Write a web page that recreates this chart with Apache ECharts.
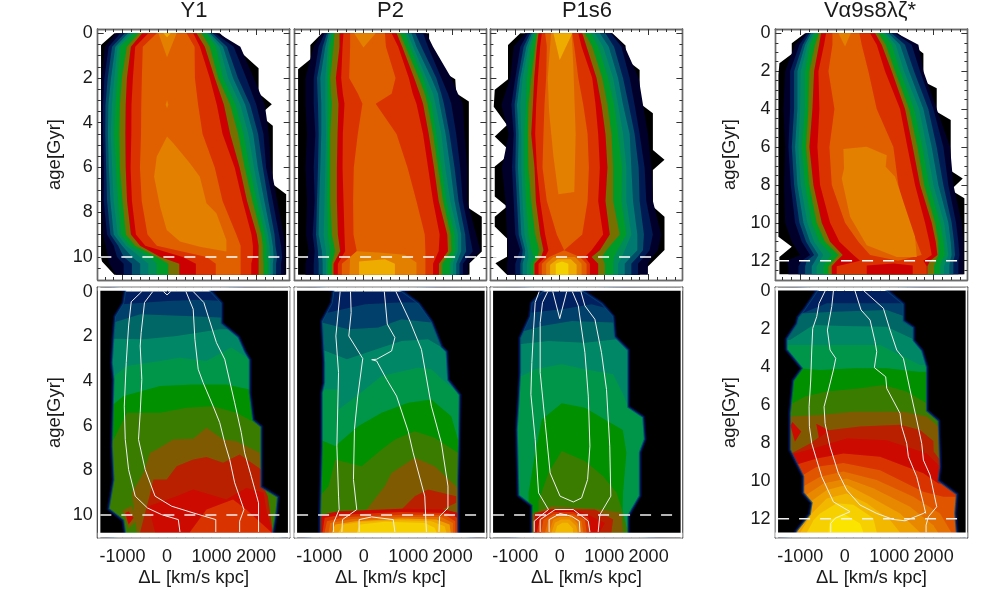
<!DOCTYPE html>
<html><head><meta charset="utf-8">
<style>html,body{margin:0;padding:0;background:#fff}#c{width:981px;height:598px}</style>
<script src="https://cdn.jsdelivr.net/npm/echarts@6/dist/echarts.min.js"></script>
</head><body><div id="c"></div>
<script>
const titles=['Y1','P2','P1s6','V\u03b19s8\u03bb\u03b6*'];
const xTicks=[-1000,0,1000,2000];
const xMinor=[-1400,-1200,-800,-600,-400,-200,200,400,600,800,1200,1400,1600,1800,2200,2400,2600];
const yTicks10=[0,2,4,6,8,10];
const yTicks12=[0,2,4,6,8,10,12];
const yMinor10=[0.5,1,1.5,2.5,3,3.5,4.5,5,5.5,6.5,7,7.5,8.5,9,9.5,10.5];
const yMinor12=[0.5,1,1.5,2.5,3,3.5,4.5,5,5.5,6.5,7,7.5,8.5,9,9.5,10.5,11,11.5,12.5];
const dashAge=[10,10,10,12];
const xRange=[-1560,2760];
const plotX=[-1500,2720];
const maxAges=[10.8,10.8,10.8,12.72];

const topLevels=['#00002a','#001a54','#004e68','#007a70','#008c58','#009a28','#767000','#cc0000','#da3300','#e06000'];
const L10='#e38000',L11='#efac00',L12='#f5d000';
const lowColors={B1:'#00205f',B2:'#00406a',B3:'#006666',B4:'#008866',B5:'#00964a',B6:'#009000',B7:'#3a7c00',B8:'#805a00',B9:'#b82000',R:'#cc0a00',E:'#d93300',F:'#e05500',C10:'#e37000',C11:'#e88800',C12:'#eea000',C13:'#f2b800',C14:'#f6d000',C15:'#fae400'};

/* ---- upper row: contour edges per age; left columns outer to inner, right columns inner to outer ---- */
const y1Ages=[0,0.6,2,3.2,4.5,6,7.5,9,9.5,10,10.3,10.8];
const y1Left=[
[-1150,-1050,-950,-880,-820,-740,-640,-560,-420,-230],
[-1400,-1313,-1238,-1164,-1111,-1052,-903,-813,-716,-545],
[-1470,-1410,-1335,-1260,-1186,-1111,-1015,-903,-768,-567],
[-1480,-1440,-1385,-1320,-1240,-1160,-1060,-930,-800,-580],
[-1480,-1440,-1390,-1330,-1265,-1186,-1073,-938,-803,-585],
[-1480,-1420,-1370,-1310,-1235,-1150,-1060,-930,-820,-610],
[-1470,-1425,-1350,-1275,-1200,-1100,-1000,-900,-790,-570],
[-1440,-1350,-1275,-1200,-1111,-1037,-925,-813,-700,-440],
[-1380,-1200,-1100,-1010,-920,-830,-716,-605,-490,-231],
[-1330,-1126,-977,-790,-604,-380,-230,-150,350,888],
[-1300,-977,-790,-604,-418,-231,30,276,649,1096],
[-1150,-977,-790,-604,-418,-231,30,276,649,1096]];
const y1Right=[
[440,589,664,776,888,925,962,1020,1074,1150],
[620,740,850,960,1100,1180,1260,1350,1500,1650],
[627,962,1074,1150,1260,1373,1485,1596,1783,1950],
[700,1120,1280,1420,1540,1650,1760,1870,2010,2200],
[800,1250,1420,1600,1720,1830,1940,2050,2170,2290],
[1074,1522,1634,1746,1857,1955,2044,2156,2230,2340],
[1250,1700,1800,1920,2020,2100,2190,2280,2380,2480],
[1560,1900,2020,2120,2200,2270,2340,2420,2520,2620],
[1656,1932,2060,2156,2246,2305,2380,2440,2566,2650],
[1656,1932,2060,2156,2246,2320,2400,2480,2590,2660],
[1656,1895,2060,2170,2268,2320,2380,2454,2566,2650],
[1656,1895,2060,2170,2268,2320,2380,2454,2566,2660]];
const y1Env=[-1186,0,1187,0,2060,1.56,2060,2.68,2358,3.17,2082,3.65,2380,4.14,2380,6.75,2680,7.2,2680,10.8,-1186,10.8,-1463,10.2,-1485,10,-1485,0.52];
const y1Core=[[L10,[-194,0,0,1.07,216,0]],[L11,[-82,0,0,0.18,82,0]],[L10,[-30,3.2,0,3,30,3.2,0,3.35]],
[L10,[0,4.62,-231,5.51,-291,6.41,-157,7.75,-7,8.79,291,9.31,738,9.54,1335,9.76,1335,9.24,1111,8.05,888,7.6,738,6.41,515,5.81,142,4.92]]];

const p2Ages=[0,0.6,2,2.7,3.15,4.5,6,7.5,9,9.75,10.3,10.8];
const p2Left=[
[-940,-880,-828,-790,-753,-701,-656,-545,-455,-306],
[-1126,-1015,-925,-865,-806,-768,-679,-545,-477,-306],
[-1313,-1126,-1052,-977,-865,-806,-753,-627,-507,-328],
[-1313,-1126,-1040,-965,-865,-800,-735,-597,-470,-130],
[-1313,-1126,-1030,-955,-865,-790,-716,-567,-433,-30],
[-1276,-1089,-1015,-955,-850,-806,-753,-589,-470,-134],
[-1313,-1126,-1030,-977,-865,-813,-753,-604,-477,-224],
[-1276,-1104,-1052,-1000,-880,-820,-753,-604,-455,-239],
[-1298,-1149,-1074,-1015,-902,-806,-716,-582,-433,-231],
[-1238,-1104,-1030,-940,-850,-753,-642,-530,-418,-157],
[-1313,-1126,-1015,-925,-850,-806,-716,-679,-582,-492],
[-1313,-1126,-1015,-925,-850,-806,-716,-679,-582,-492]];
const p2Right=[
[477,627,739,813,925,985,1074,1164,1335,1410],
[500,776,865,940,1037,1111,1186,1298,1447,1559],
[716,1015,1134,1238,1335,1410,1522,1634,1746,1970],
[627,1104,1261,1373,1447,1559,1671,1746,1895,2119],
[269,1186,1335,1432,1522,1611,1708,1805,1970,2230],
[739,1335,1462,1559,1634,1746,1843,1932,2081,2268],
[985,1447,1581,1671,1746,1835,1947,2044,2171,2327],
[1186,1559,1686,1783,1858,1947,2044,2134,2230,2327],
[1373,1708,1880,1955,2044,2119,2193,2283,2380,2529],
[1388,1686,1895,1970,2059,2119,2193,2305,2454,2626],
[1388,1559,1693,1768,1932,2007,2081,2156,2230,2342],
[1388,1559,1693,1768,1932,2007,2081,2156,2230,2342]];
const p2Env=[-940,0,1470,0,1470,0.52,1783,1.61,1783,1.72,2059,2.06,2081,2.68,2365,3.05,2365,7.82,2656,8.2,2656,9.76,2380,10.28,2380,10.8,-1477,10.8,-1477,1.61,-1201,1.16,-1201,0.52];
const p2Core=[[L10,[-216,0,-7,0.64,269,0]],[L10,[-306,10,-157,9.75,328,9.8,924,9.9,1186,10.25,1186,10.8,-321,10.8]],[L11,[-104,10.2,477,10.1,701,10.3,701,10.8,-104,10.8]]];

const p3Ages=[0,0.6,2,3.2,4.5,6,7.5,9,9.7,10,10.3,10.8];
const p3Left=[
[-776,-716,-664,-627,-589,-567,-515,-477,-403,-328],
[-1037,-888,-813,-753,-701,-642,-552,-515,-440,-291],
[-1111,-1000,-940,-888,-835,-739,-642,-574,-492,-306],
[-1313,-1089,-1015,-962,-888,-761,-701,-604,-530,-343],
[-1149,-1037,-985,-925,-865,-791,-716,-642,-552,-366],
[-1298,-1074,-1000,-940,-865,-791,-701,-567,-515,-388],
[-1223,-1037,-962,-903,-835,-761,-642,-537,-440,-291],
[-1186,-1000,-925,-865,-791,-701,-552,-440,-328,-67],
[-1164,-888,-835,-776,-716,-640,-460,-366,-254,100],
[-1164,-950,-850,-790,-700,-580,-500,-418,-328,-239],
[-1186,-1000,-888,-835,-739,-650,-589,-567,-477,-403],
[-1186,-1000,-888,-835,-739,-650,-589,-567,-477,-403]];
const p3Right=[
[283,418,507,567,701,791,903,1029,1149,1170],
[328,492,604,731,865,977,1104,1223,1388,1462],
[418,731,828,955,1089,1201,1313,1425,1574,1776],
[530,806,940,1074,1223,1313,1425,1552,1686,1873],
[627,865,1029,1164,1313,1425,1574,1686,1798,1984],
[656,903,1074,1201,1402,1499,1611,1776,1910,2059],
[627,865,1029,1201,1388,1499,1649,1798,1947,2096],
[507,977,1126,1350,1499,1611,1746,1895,2096,2283],
[100,716,903,1050,1300,1462,1746,1873,2022,2208],
[455,567,716,950,1220,1400,1600,1750,1900,2080],
[604,679,865,1015,1201,1313,1462,1611,1761,1984],
[604,679,865,1015,1201,1313,1462,1611,1761,1984]];
const p3Env=[-888,0,1186,0,1480,0.55,1499,1.19,1798,1.64,1798,3.13,2096,3.58,2096,5.22,2357,5.66,2096,6.11,2096,7.75,2357,8.2,2357,9.69,1798,10.8,-1186,10.8,-1447,10.28,-1186,9.99,-1186,9.17,-1462,8.64,-1462,8.2,-1186,7.75,-1462,7.3,-1462,5.96,-1186,5.51,-1186,5.14,-1462,4.62,-1186,4.1,-1485,3.28,-1462,2.53,-1164,2.06,-1164,0.52];
const p3Core=[[L10,[-194,0,269,0,306,1.5,358,4.5,328,7.1,-30,7.2,-142,5.5,-239,3.5,-269,2]],[L11,[-142,0,0,1.2,283,0]],
[L10,[-142,10,343,10,492,10.3,492,10.8,-306,10.8,-306,10.3]],[L11,[-50,10.1,250,10.1,380,10.35,380,10.8,-216,10.8,-216,10.35]],[L12,[-90,10.3,50,10.2,194,10.3,194,10.8,-90,10.8]]];

const v4Ages=[0,0.6,2,4,6,8,10,11,11.7,12,12.3,12.72];
const v4Left=[
[-870,-840,-795,-757,-705,-667,-585,-532,-420,-277],
[-1117,-1020,-945,-892,-840,-780,-667,-577,-465,-277],
[-1342,-1230,-1140,-1065,-990,-892,-795,-690,-592,-367],
[-1380,-1230,-1140,-1065,-1005,-892,-817,-727,-570,-232],
[-1342,-1267,-1192,-1117,-1042,-967,-870,-795,-615,-345],
[-1365,-1215,-1140,-1065,-990,-892,-795,-705,-555,-292],
[-1342,-1117,-1020,-930,-840,-742,-630,-517,-330,7],
[-1192,-967,-870,-780,-690,-570,-442,-330,-120,307],
[-1005,-780,-690,-592,-480,-292,-142,-45,195,570],
[-1305,-967,-855,-667,-555,-405,-255,-180,345,1200],
[-1267,-1042,-892,-742,-630,-480,-367,-292,-180,1200],
[-1267,-1042,-892,-742,-630,-480,-367,-292,-180,1200]];
const v4Right=[
[330,570,682,757,870,922,982,1057,1132,1170],
[382,720,832,922,1057,1147,1245,1357,1507,1657],
[532,907,1057,1132,1245,1335,1447,1560,1695,1770],
[720,1245,1357,1447,1560,1672,1770,1882,1995,2070],
[1095,1410,1530,1635,1747,1845,1957,2070,2220,2370],
[1207,1582,1695,1785,1897,1995,2107,2220,2332,2445],
[1432,1807,1957,2032,2145,2235,2332,2407,2505,2632],
[1620,1905,2047,2107,2220,2295,2385,2460,2557,2670],
[1732,1957,2085,2107,2257,2332,2407,2482,2580,2670],
[1200,1770,1920,2055,2182,2280,2370,2445,2557,2670],
[1200,1845,1860,2010,2145,2235,2355,2445,2557,2670],
[1200,1845,1860,2010,2145,2235,2355,2445,2557,2670]];
const v4Env=[-892,0,1192,0,1770,1.06,1770,2.55,2070,2.9,2070,4.14,2385,4.58,2385,7.25,2655,7.66,2385,8.27,2692,8.71,2692,12.72,-1470,12.72,-1470,11.8,-1192,11.27,-1492,10.74,-1492,2.2,-1470,1.58,-1192,1.09,-1192,0.53];
const v4Core=[[L10,[-142,0,7,0.7,135,0]],
[L10,[-30,6.11,495,5.99,945,6.43,922,7.04,1132,7.57,1357,9.15,1582,10.74,1620,11.8,1170,11.8,495,11.18,120,9.68,-67,7.66,-15,7.13]],
['#cc0000',[495,12.25,1100,12.15,1530,12.25,1530,12.72,495,12.72]]];

/* ---- lower row: band tops, each closed down to the bottom of the plot ---- */
const y1Bands=[
['B2',[-1500,0.6,-1015,0.57,0,0.42,739,0.37,1261,0.42,2720,0.42]],
['B3',[-1500,1.45,-1201,1.39,-604,1.02,440,1.09,1335,1.17,2720,1.2]],
['B4',[-1500,2.15,-1238,2.11,-530,2.14,216,1.99,1186,1.69,1485,1.69,1783,2.66,2720,2.7]],
['B5',[-1500,3.9,-1238,3.86,-903,3.33,-157,3.11,291,2.96,888,3.11,1447,2.51,1857,3.03,2720,3.1]],
['B6',[-1500,5.2,-1238,5.1,-977,4.68,-157,4.23,589,4.16,1335,4.16,1857,4.38,2720,4.5]],
['B7',[-1500,6.7,-1201,6.62,-903,5.43,-157,5.43,440,5.2,1037,5.13,1559,5.43,2119,6.02,2720,6.1]],
['B8',[-679,10.76,-790,9.01,-530,8.12,-380,7.22,-231,7.07,142,6.62,589,6.59,888,6.1,1261,6.62,1559,6.7,2082,7.22,2119,7.97,2193,8.71,2268,9.61,2380,10.76]],
['B9',[-604,10.76,-395,9.16,-306,8.42,-7,8.42,216,7.82,589,7.52,888,7.41,1261,7.67,1634,7.29,2119,7.97,2156,8.71,2268,9.16,2380,10.76]],
['R',[-268,10.76,-418,9.61,216,9.16,589,8.86,1335,9.31,1783,8.79,2171,9.01,2246,9.91,2380,10.76]],
['E',[515,10.76,888,9.76,1485,9.31,1783,9.76,2340,10.76]],
['B8',[-1000,9.8,-865,10.6,-650,10.2,-800,9.6,-1000,9.8]],
['R',[-940,9.91,-865,10.43,-753,10.13,-865,9.85,-940,9.91]]];
const y1EnvL=[-977,0,-1015,0.49,-1201,1.09,-1238,1.99,-1276,3.18,-1238,3.93,-1276,6.92,-1238,8.42,-1350,9.76,-1015,10.28,-977,10.8];
const y1EnvR=[1037,0,1261,0.49,1261,1.39,1634,1.99,1783,2.66,1895,3.03,1895,4.53,1970,5.72,2156,6.02,2156,8.71,2529,9.16,2492,9.91,2417,10.8];
const y1Lines=[
[-567,0,-806,0.46,-865,1.54,-918,3.18,-962,5.13,-940,6.62,-865,7.97,-716,9.16,-440,9.69,-119,9.99,254,10.21,291,10.76],
[-321,0,-507,0.49,-582,1.84,-604,2.44,-567,3.93,-604,5.43,-642,6.62,-492,7.97,-269,9.16,104,9.61,589,9.91,1097,10.21,1097,10.76],
[425,0,589,0.79,627,2.14,701,3.48,813,4.08,1037,5.13,1186,5.87,1298,6.77,1410,7.52,1522,8.56,1731,9.76,1634,10.28,1634,10.76],
[589,0,828,0.49,1112,2.29,1298,3.03,1522,4.98,1671,6.32,1746,7.22,1895,8.27,2059,9.46,2059,10.76],
[-82,0,0,0.15,82,0]];

const p2Bands=[
['B2',[-1500,0.94,-791,0.94,30,0.57,776,0.49,1223,0.49,2720,0.49]],
['B3',[-1500,1.39,-940,1.39,-343,1.69,328,1.61,850,1.24,1522,1.39,2720,1.39]],
['B4',[-1500,2.59,-940,2.59,-380,3.03,403,2.51,850,2.21,1447,2.14,1895,2.66,2720,2.66]],
['B5',[-1500,4.38,-940,4.38,-567,4.38,-567,5.28,-157,4.68,403,3.78,1223,3.41,1522,3.48,1895,4.16,2193,4.6,2720,4.6]],
['B6',[-1500,6.6,-1015,6.6,-642,6.92,-119,6.02,403,5.43,1000,4.98,1522,4.83,1970,5.58,2119,6.62,2720,6.62]],
['B7',[-1000,9.2,-791,8.71,-642,7.52,-45,7.82,403,7.07,701,6.62,1149,6.25,1596,6.55,2119,7.22,2720,7.22]],
['B8',[67,10.76,67,9.76,477,8.71,627,8.12,1149,7.44,1596,7.82,2119,8.79,2119,10.76]],
['B9',[850,10.76,850,9.76,1149,9.16,1447,8.86,2081,9.16,2081,9.46,1760,9.76,2119,9.91,2119,10.76]],
['R',[-977,10.76,-955,9.99,-567,9.84,850,9.72,1820,9.76,2119,9.91,2134,10.76]],
['E',[-925,10.76,-880,10.13,-492,9.99,850,9.87,1895,9.91,2104,10.13,2104,10.76]],
['F',[-880,10.76,-828,10.28,-418,10.09,850,9.99,1820,9.99,2059,10.28,2059,10.76]],
['C10',[-791,10.76,-753,10.36,-269,10.18,850,10.09,1746,10.09,2007,10.36,2007,10.76]],
['C12',[-716,10.76,-642,10.43,-194,10.28,850,10.16,1634,10.21,1932,10.43,1955,10.76]],
['C13',[-567,10.76,-455,10.43,-45,10.31,850,10.24,1522,10.28,1820,10.51,1858,10.76]],
['C14',[-157,10.76,-82,10.43,477,10.31,1373,10.36,1596,10.58,1634,10.76]]];
const p2EnvL=[-716,0,-753,0.49,-977,1.32,-955,2.14,-925,3.18,-925,4.08,-977,4.53,-977,6.92,-1015,9.91,-1015,10.8];
const p2EnvR=[925,0,1261,0.49,1559,1.32,1783,2.44,1895,2.66,1932,3.93,2193,4.6,2178,6.77,2156,8.42,2156,10.8];
const p2Lines=[
[-530,0,-627,1.99,-567,3.63,-604,6.92,-567,9.16,-552,9.76,-679,10.36,-679,10.76],
[-298,0,-283,0.94,-336,1.99,-22,3,-134,4.68,-209,6.17,-231,8.42,-157,9.76,-477,10.21,-492,10.76],
[463,0,530,1.46,701,2.06,627,2.66,291,3.03,179,3.05,291,3.11,515,3.93,739,4.68,1000,6.25,1112,7.22,1373,9.16,1410,10.76],
[724,0,1037,1.32,1298,2.59,1522,5.13,1746,6.77,1895,8.71,1895,9.69,1708,10.06,1693,10.76],
[-104,10.76,-104,10.21,179,10.09,664,10.21,701,10.76]];

const p3Bands=[
['B2',[-1500,0.94,-627,0.94,45,0.79,716,0.57,1015,0.72,2720,0.72]],
['B3',[-1500,1.76,-776,1.76,-403,1.54,269,1.32,1201,1.39,2720,1.39]],
['B4',[-1500,2.36,-925,2.36,-254,2.21,567,2.29,1276,2.14,1574,2.59,2720,2.59]],
['B5',[-1500,3.78,-850,3.78,-552,3.48,45,3.26,567,3.48,1201,3.7,1425,4.6,1537,5.13,2720,5.13]],
['B6',[-700,10.76,-700,9,-552,7.22,-403,5.73,45,5,567,5.2,1015,5.73,1420,6.2,1500,7.22,1425,9,1400,10.76]],
['B7',[-477,10.76,-477,9.39,-254,8.12,45,7.14,567,7.59,977,8.27,1276,9,1425,9.91,1537,10.76]],
['B8',[-664,10.76,-620,9.96,-179,9.61,940,9.76,1387,9.91,1425,10.76]],
['B9',[-567,10.76,-567,9.91,-179,9.76,791,9.76,1201,10.21,1164,10.76]],
['R',[-567,10.76,-552,10.06,-254,9.76,269,9.72,642,9.99,1015,10.36,903,10.76]],
['E',[-515,10.76,-440,10.13,-179,9.87,306,9.87,642,10.13,679,10.76]],
['F',[-418,10.76,-366,10.21,-142,9.96,306,9.96,567,10.21,604,10.76]],
['C10',[-328,10.76,-254,10.21,-67,10.01,231,10.01,492,10.28,530,10.76]],
['C11',[-239,10.76,-142,10.21,7,10.09,269,10.09,418,10.43,455,10.76]],
['C12',[-180,10.76,-110,10.35,30,10.2,220,10.2,370,10.5,400,10.76]],
['C13',[-100,10.76,-60,10.5,60,10.35,180,10.35,290,10.6,300,10.76]]];
const p3EnvL=[-440,0,-664,0.49,-701,1.09,-925,2.06,-925,3.63,-962,4.98,-1000,6.17,-962,9.16,-664,9.61,-664,10.8];
const p3EnvR=[604,0,977,0.49,1238,1.09,1276,1.99,1574,2.59,1574,5.13,1910,5.58,1947,6.62,1835,7.22,1835,9.16,1574,10.06,1574,10.8];
const p3Lines=[
[-463,0,-552,0.49,-589,1.69,-627,3.18,-649,4.6,-552,6.62,-477,9.01,-254,9.76,-440,10.06,-574,10.28,-574,10.76],
[-269,0,-388,0.49,-440,1.39,-440,3.63,-328,5.87,-216,8.12,7,9.16,306,9.42,492,9.24,627,8.42,679,6.92,642,4.68,567,2.74,418,0.64,283,0],
[-157,0,0,1.21,157,0],
[477,0,567,0.64,791,1.24,940,2.74,1052,4.38,1126,6.92,1149,9.16,903,9.99,865,10.76],
[-440,10.76,-440,10.21,-104,9.76,306,9.76,642,10.28,679,10.76],
[-239,10.76,-239,10.21,7,9.94,269,10.06,440,10.28,455,10.76]];

const v4Bands=[
['B2',[-1500,1.18,-967,1.18,-405,0.65,495,0.65,1282,0.65,2720,0.65]],
['B3',[-1500,1.18,-1005,1.18,-255,1.09,945,1,1357,1.35,2720,1.35]],
['B4',[-1500,2.58,-1230,2.58,-705,1.79,-30,1.84,945,1.88,1582,2.58,2720,2.58]],
['B5',[-1500,2.84,-1305,2.84,-705,2.84,-180,2.84,795,2.84,1695,3.9,2720,3.9]],
['B6',[-1500,4.07,-1042,4.07,-555,4.16,195,4.07,945,4.07,1657,4.25,2720,4.25]],
['B7',[-1500,6,-1230,6,-892,5.56,-405,5.3,345,5.12,870,4.95,1395,5.3,1845,5.92,2720,5.92]],
['B8',[-1500,6.61,-1230,6.61,-555,6.53,195,6.36,1320,6.36,1845,6.61,2107,7.14,2720,7.14]],
['B9',[-1500,8.55,-1192,8.55,-780,8.03,-555,7.67,-330,7.32,345,7.14,1245,7.05,1695,7.32,1995,7.9,2000,8.46,2145,8.9,2720,8.9]],
['R',[-1500,8.56,-1117,8.56,-555,8.2,45,7.77,945,7.86,1845,8.56,2145,9.26,2720,9.26]],
['E',[-1500,9.17,-1117,9.17,-630,8.82,-30,8.56,795,8.73,1770,9.61,2107,10.14,2720,10.14]],
['F',[-1500,9.79,-1005,9.79,-630,9.26,-30,9.07,795,9.44,1770,10.58,2220,10.84,2720,10.84]],
['C10',[-1500,10.4,-1005,10.4,-555,9.79,-30,9.51,720,9.96,1545,10.84,2145,11.72,2400,12.72]],
['C11',[-1100,12.72,-930,10.84,-480,10.14,45,9.88,645,10.4,1470,11.37,1995,12.34,2100,12.72]],
['C12',[-1060,12.72,-817,11.19,-405,10.49,45,10.21,570,10.84,1245,11.72,1695,12.72]],
['C13',[-1000,12.72,-742,11.72,-405,10.93,45,10.67,495,11.19,1020,12.07,1245,12.72]],
['C14',[-850,12.72,-700,12.07,-555,11.72,-180,11.19,195,11.26,645,11.98,720,12.72]],
['C15',[-367,12.72,-330,12.07,-30,11.72,345,12.25,420,12.72]],
['R',[-1220,7.1,-1120,7.95,-980,7.4,-1180,6.9,-1220,7.1]],
['R',[-640,7.0,-580,7.75,-350,7.35,-640,7.0]]];
const v4EnvL=[-667,0,-930,0.91,-1080,1.35,-1117,1.7,-1342,2.5,-1342,3.11,-1005,4.08,-1192,4.69,-1267,6.45,-1267,8.38,-967,9.79,-967,10.67,-780,11.19,-817,11.72,-1117,12.6,-1140,12.8];
const v4EnvR=[1020,0,1357,0.65,1357,1.53,1582,1.88,1582,2.58,1770,3.11,1882,3.99,1882,6.27,2145,6.8,2182,9.26,2145,9.96,2557,10.67,2520,11.72,2557,12.8];
const v4Lines=[
[-442,0,-577,0.65,-630,1.35,-720,1.97,-742,3.11,-765,4.69,-802,6.1,-795,7.15,-742,8.03,-630,8.91,-517,9.79,-255,11.11,120,11.63,-217,11.98,-315,12.25,-315,12.72],
[-255,0,-292,0.82,-390,2.06,-330,3.11,-202,3.55,-255,4.16,-367,5.22,-465,6.1,-442,6.98,-330,8.21,-142,9.61,45,10.49,345,11.28,720,11.72,1095,12.04,1357,12.11,1770,11.72,1822,11.63],
[232,0,367,1,570,1.53,682,2.67,720,3.2,667,4.04,922,4.52,945,5.13,1245,6.45,1282,7.15,1395,8.03,1432,8.73,1620,9.79,1770,11.19,1822,11.72],
[435,0,870,0.91,1020,2.06,1170,3.11,1320,3.55,1470,5.22,1620,6.8,1732,8.03,1770,8.91,1920,9.7,2070,11.37,1882,11.9,1830,12.34,1830,12.72]];

/* ---- layout ---- */
const gridLefts=[97.7,294.4,490.4,775.4];
const gridTops=[29,287.3];
const gridHeights=[251,250.4];
const gridWidth=192;
const yRangesUp=[[-0.19,11.03],[-0.19,11.03],[-0.19,11.03],[-0.227,13.02]];
const yRangesLow=[[-0.19,11.02],[-0.19,11.02],[-0.19,11.02],[-0.195,13]];
const titleX=[194,390.5,587,870];

const upper=[[y1Ages,y1Left,y1Right,y1Env,y1Core],[p2Ages,p2Left,p2Right,p2Env,p2Core],[p3Ages,p3Left,p3Right,p3Env,p3Core],[v4Ages,v4Left,v4Right,v4Env,v4Core]];
const lower=[[y1Bands,y1EnvL,y1EnvR,y1Lines],[p2Bands,p2EnvL,p2EnvR,p2Lines],[p3Bands,p3EnvL,p3EnvR,p3Lines],[v4Bands,v4EnvL,v4EnvR,v4Lines]];

const pairs=a=>{const o=[];for(let i=0;i<a.length;i+=2)o.push([a[i],a[i+1]]);return o;};
const frameColor='#6a6a6a',tickColor='#333',font='"Liberation Sans",Arial,sans-serif';

const grids=[],xAxes=[],yAxes=[],series=[],title=[];
function addAxes(g,yr,col,row){
  const four=col===3, yT=four?yTicks12:yTicks10, yM=four?yMinor12:yMinor10;
  const base={type:'value',gridIndex:g,splitLine:{show:false},axisLine:{show:true,onZero:false,lineStyle:{color:frameColor,width:1.4}}};
  const xi=xAxes.length,yi=yAxes.length;
  const xa=(pos,vals,len,lab)=>({...base,min:xRange[0],max:xRange[1],position:pos,
    axisTick:{show:true,inside:true,length:len,customValues:vals,lineStyle:{color:tickColor,width:1}},
    axisLabel:lab?{show:true,customValues:xTicks,formatter:v=>String(v),fontFamily:font,fontSize:18,color:'#1a1a1a',margin:10,hideOverlap:false}:{show:false},
    ...(lab?{name:'\u0394L [km/s kpc]',nameLocation:'middle',nameGap:31,nameTextStyle:{fontFamily:font,fontSize:18.5,color:'#1a1a1a'}}:{})});
  xAxes.push(xa('bottom',xTicks,6,row===1),xa('bottom',xMinor,3,false),xa('top',xTicks,6,false),xa('top',xMinor,3,false));
  const ya=(pos,vals,len,lab)=>({...base,min:yr[0],max:yr[1],inverse:true,position:pos,
    axisTick:{show:true,inside:true,length:len,customValues:vals,lineStyle:{color:tickColor,width:1}},
    axisLabel:lab?{show:true,customValues:yT,formatter:v=>String(v),fontFamily:font,fontSize:18,color:'#1a1a1a',margin:5,hideOverlap:false}:{show:false},
    ...(lab?{name:'age[Gyr]',nameLocation:'middle',nameGap:col===3?36:33,nameTextStyle:{fontFamily:font,fontSize:18.5,color:'#1a1a1a'}}:{})});
  const showLab=col===0||col===3;
  yAxes.push(ya('left',yT,6,showLab),ya('left',yM,3,false),ya('right',yT,6,false),ya('right',yM,3,false));
  return [xi,yi];
}
function polySeries(polys,xi,yi){
  return {type:'custom',xAxisIndex:xi,yAxisIndex:yi,clip:true,animation:false,silent:true,progressive:0,
    data:polys.map((p,i)=>[i]),
    renderItem:(params,api)=>{
      const p=polys[params.dataIndex];
      const style={fill:p.fill||'none'};
      if(p.stroke){style.stroke=p.stroke;style.lineWidth=p.lw;style.opacity=p.op||1;}
      return {type:'polygon',shape:{points:p.pts.map(c=>api.coord(c))},style};
    }};
}
for(let c=0;c<4;c++){
  const g=grids.length;
  grids.push({left:gridLefts[c],top:gridTops[0],width:gridWidth,height:gridHeights[0],show:false});
  const [xi,yi]=addAxes(g,yRangesUp[c],c,0);
  const [ages,left,right,env,core]=upper[c];
  const polys=[{fill:'#000000',pts:pairs(env)}];
  topLevels.forEach((col,i)=>{
    const pts=[];
    ages.forEach((a,r)=>pts.push([left[r][i],a]));
    for(let r=ages.length-1;r>=0;r--)pts.push([right[r][9-i],ages[r]]);
    polys.push({fill:col,pts});
  });
  core.forEach(([col,flat])=>polys.push({fill:col,pts:pairs(flat)}));
  series.push(polySeries(polys,xi,yi));
  series.push({type:'line',xAxisIndex:xi,yAxisIndex:yi,data:[[plotX[0],dashAge[c]],[plotX[1],dashAge[c]]],showSymbol:false,animation:false,silent:true,z:5,lineStyle:{color:'#fff',width:1.5,type:[11,10]}});
  title.push({text:titles[c],left:titleX[c],top:0,padding:0,textAlign:'center',textStyle:{fontFamily:font,fontSize:22,fontWeight:'normal',color:'#1a1a1a'}});
}
for(let c=0;c<4;c++){
  const g=grids.length;
  grids.push({left:gridLefts[c],top:gridTops[1],width:gridWidth,height:gridHeights[1],show:false});
  const [xi,yi]=addAxes(g,yRangesLow[c],c,1);
  const [bands,envL,envR,lines]=lower[c];
  const mx=maxAges[c],yr=yRangesLow[c];
  const polys=[{fill:lowColors.B1,pts:[[plotX[0],0],[plotX[1],0],[plotX[1],mx],[plotX[0],mx]]}];
  bands.forEach(([lv,flat])=>{
    const pts=pairs(flat);
    const closed=pts[0][0]===pts[pts.length-1][0]&&pts[0][1]===pts[pts.length-1][1];
    if(!closed){pts.push([pts[pts.length-1][0],mx]);pts.push([pts[0][0],mx]);}
    polys.push({fill:lowColors[lv],pts});
  });
  const outL=[[plotX[0]-300,-0.5],...pairs(envL),[plotX[0]-300,mx+0.5]];
  const outR=[[plotX[1]+300,-0.5],...pairs(envR),[plotX[1]+300,mx+0.5]];
  [outL,outR].forEach(pts=>{
    polys.push({stroke:'#004a70',lw:5,op:0.75,pts});
    polys.push({stroke:'#001a60',lw:3,pts});
    polys.push({fill:'#000000',stroke:'#000830',lw:1,pts});
  });
  const w='#ffffff';
  polys.push({fill:w,pts:[[xRange[0],yr[0]],[plotX[0],yr[0]],[plotX[0],yr[1]],[xRange[0],yr[1]]]});
  polys.push({fill:w,pts:[[plotX[1],yr[0]],[xRange[1],yr[0]],[xRange[1],yr[1]],[plotX[1],yr[1]]]});
  polys.push({fill:w,pts:[[xRange[0],yr[0]],[xRange[1],yr[0]],[xRange[1],-0.03],[xRange[0],-0.03]]});
  polys.push({fill:w,pts:[[xRange[0],mx],[xRange[1],mx],[xRange[1],yr[1]],[xRange[0],yr[1]]]});
  series.push(polySeries(polys,xi,yi));
  lines.forEach(flat=>series.push({type:'line',xAxisIndex:xi,yAxisIndex:yi,data:pairs(flat),showSymbol:false,animation:false,silent:true,z:5,lineStyle:{color:'#f0f0f0',width:1}}));
  series.push({type:'line',xAxisIndex:xi,yAxisIndex:yi,data:[[plotX[0],dashAge[c]],[plotX[1],dashAge[c]]],showSymbol:false,animation:false,silent:true,z:5,lineStyle:{color:'#f0f0f0',width:1.5,type:[11,10]}});
}
const chart=echarts.init(document.getElementById('c'),null,{renderer:'canvas'});
chart.setOption({animation:false,backgroundColor:'#fff',title,grid:grids,xAxis:xAxes,yAxis:yAxes,series});
</script></body></html>
